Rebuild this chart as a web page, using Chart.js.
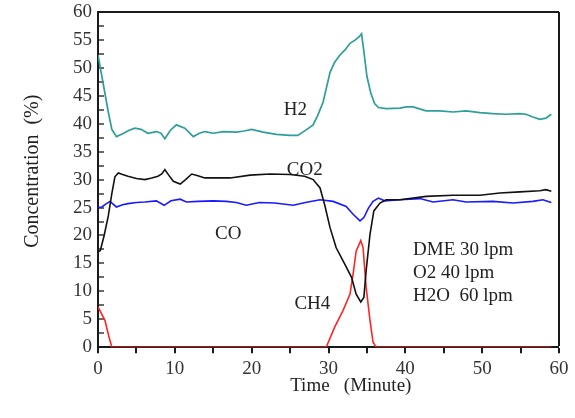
<!DOCTYPE html>
<html><head><meta charset="utf-8">
<script src="https://cdn.jsdelivr.net/npm/chart.js@4"></script>
<style>html,body{margin:0;padding:0;background:#fff}</style>
</head><body>
<canvas id="c" width="575" height="418"></canvas>
<script>
// ---- data ----
const h2Time = [0,0.5,1.34,1.8,2.4,3.2,4.0,4.8,5.6,6.5,7.6,8.2,8.7,9.4,10.2,11.3,12.4,13.2,13.9,15.0,16.3,18.0,19.0,20.0,21.5,23.2,25.0,26.0,27.1,28.0,28.6,29.3,30.2,30.8,31.5,32.2,32.8,33.5,34.0,34.3,34.6,35.0,35.5,36.0,36.5,37.5,39.3,40.1,41.0,42.7,44.5,46.2,47.9,49.7,51.4,53.1,54.9,55.7,56.6,57.5,58.3,59.0];
const h2Conc = [52.3,48.5,42.1,39.0,37.7,38.2,38.8,39.2,39.0,38.3,38.6,38.3,37.3,38.8,39.8,39.2,37.7,38.3,38.6,38.3,38.6,38.5,38.7,39.0,38.5,38.1,37.9,37.9,38.9,39.8,41.5,43.9,49.2,51.0,52.3,53.3,54.4,55.0,55.6,56.1,53.0,48.5,45.5,43.6,42.9,42.7,42.8,43.0,43.0,42.3,42.3,42.1,42.3,42.0,41.8,41.7,41.8,41.7,41.2,40.8,41.0,41.7];

const co2Time = [0,0.3,0.8,1.34,1.8,2.2,2.64,3.2,3.9,5.0,6.1,7.0,7.8,8.3,8.7,9.2,9.8,10.7,11.4,12.2,13.0,13.9,15.0,17.2,19.8,22.4,25.0,26.9,28.0,28.9,29.5,30.2,31.0,32.1,33.0,33.6,34.2,34.6,34.9,35.4,35.9,36.7,37.5,39.3,42.7,46.2,49.7,52.3,54.9,57.5,58.3,59.0];
const co2Conc = [17.0,17.3,20.0,23.5,27.5,30.5,31.2,30.9,30.6,30.2,30.0,30.3,30.6,31.0,31.8,30.8,29.7,29.2,30.0,31.0,30.7,30.3,30.3,30.3,30.8,31.0,30.9,30.6,30.0,28.5,25.5,21.4,17.8,14.9,12.5,9.5,8.1,8.9,13.7,20.2,24.4,25.8,26.4,26.4,27.0,27.2,27.2,27.6,27.8,28.0,28.2,27.9];

const coTime = [0,0.5,1.0,1.56,2.4,3.2,3.9,5.0,6.1,7.6,8.6,9.5,10.7,11.5,13.0,15.0,16.7,18.0,19.3,21.0,23.0,25.4,27.0,28.9,30.6,32.3,33.2,34.1,34.6,35.2,35.8,36.5,37.3,39.3,41.9,43.6,46.2,47.9,51.4,54.0,56.6,57.9,59.0];
const coConc = [25.0,25.1,25.6,26.1,25.1,25.5,25.7,25.9,26.0,26.2,25.4,26.2,26.5,26.0,26.1,26.2,26.1,25.9,25.4,25.9,25.8,25.4,25.9,26.4,26.1,25.2,23.8,22.6,23.2,24.9,26.1,26.7,26.2,26.4,26.6,26.0,26.4,26.0,26.1,25.8,26.1,26.4,25.9];

const ch4Time = [0,0.9,1.4,1.8,29.7,30.8,31.9,32.8,33.2,33.6,34.2,34.5,34.9,35.4,35.8,36.2,59.0];
const ch4Conc = [7.2,4.8,2.0,0,0,3.6,6.6,9.5,13.1,17.2,19.1,17.8,10.7,4.8,0.9,0,0];

const seriesNames = ['H2','CO2','CO','CH4'];
const conditionLines = ['DME 30 lpm','O2 40 lpm','H2O  60 lpm'];
const xTickValues = [0,10,20,30,40,50,60];
const yTickValues = [0,5,10,15,20,25,30,35,40,45,50,55,60];
const xTitle = 'Time   (Minute)';
const yTitle = 'Concentration  (%)';

const pts = (xs, ys) => xs.map((x, i) => ({x: x, y: ys[i]}));
const FONT = '"Liberation Serif", "Times New Roman", serif';
const AXIS = '#1a1a1a';
const NONE = 'rgba(0,0,0,0)';
const AXIS_MAX = 60;
// only the grid line at the axis maximum is shown: it forms the top / right side of the frame
const edgeColor = (c) => (c.tick && c.tick.value === AXIS_MAX) ? AXIS : NONE;
const edgeWidth = (c) => (c.tick && c.tick.value === AXIS_MAX) ? 2 : 0;

const textPlugin = {
  id: 'texts',
  afterDraw(chart) {
    const ctx = chart.ctx;
    const x = chart.scales.x, y = chart.scales.y;
    ctx.save();
    ctx.fillStyle = '#222';
    ctx.font = '19px ' + FONT;
    ctx.textBaseline = 'alphabetic';
    ctx.textAlign = 'center';
    const lab = [[seriesNames[0], 25.7, 41.5], [seriesNames[1], 26.9, 30.8], [seriesNames[2], 16.95, 19.3], [seriesNames[3], 27.9, 6.8]];
    lab.forEach(([t, dx, dy]) => ctx.fillText(t, x.getPixelForValue(dx), y.getPixelForValue(dy)));
    ctx.textAlign = 'left';
    const cy = [16.5, 12.3, 8.2];
    conditionLines.forEach((t, i) => ctx.fillText(t, x.getPixelForValue(41.0), y.getPixelForValue(cy[i])));
    ctx.textAlign = 'center';
    ctx.fillText(xTitle, x.getPixelForValue(32.9), 391);
    ctx.translate(38, y.getPixelForValue(31.5));
    ctx.rotate(-Math.PI / 2);
    ctx.font = '20px ' + FONT;
    ctx.fillText(yTitle, 0, 0);
    ctx.restore();
  }
};

new Chart(document.getElementById('c'), {
  type: 'line',
  data: {
    datasets: [
      {label: 'H2', data: pts(h2Time, h2Conc), borderColor: '#2e9e98', borderWidth: 1.7},
      {label: 'CO2', data: pts(co2Time, co2Conc), borderColor: '#111111', borderWidth: 1.6},
      {label: 'CO', data: pts(coTime, coConc), borderColor: '#1a1aff', borderWidth: 1.6},
      {label: 'CH4', data: pts(ch4Time, ch4Conc), borderColor: '#ff2525', borderWidth: 1.6}
    ].map(d => Object.assign(d, {pointRadius: 0, tension: 0, fill: false}))
  },
  options: {
    responsive: false,
    animation: false,
    layout: {padding: {top: 0, right: 16, left: 61, bottom: 34}},
    plugins: {legend: {display: false}},
    scales: {
      x: {
        type: 'linear', position: 'bottom', min: 0, max: 60,
        grid: {display: true, drawOnChartArea: true, color: edgeColor, lineWidth: edgeWidth,
               drawTicks: true, tickLength: 6, tickColor: AXIS, tickWidth: 2},
        border: {display: true, color: AXIS, width: 2},
        ticks: {stepSize: 5, autoSkip: false, maxRotation: 0, padding: 4, color: '#333',
                font: {family: FONT, size: 19},
                callback: (v) => xTickValues.includes(v) ? String(v) : ''}
      },
      y: {
        type: 'linear', position: 'left', min: 0, max: 60,
        grid: {display: true, drawOnChartArea: true, color: edgeColor, lineWidth: edgeWidth,
               drawTicks: true, tickLength: -6, tickColor: AXIS, tickWidth: 1.3},
        border: {display: true, color: AXIS, width: 2},
        ticks: {stepSize: 2.5, autoSkip: false, padding: 12, color: '#333',
                font: {family: FONT, size: 19, lineHeight: 0},
                callback: (v) => yTickValues.includes(v) ? String(v) : ''}
      }
    }
  },
  plugins: [textPlugin]
});
</script>
</body></html>
